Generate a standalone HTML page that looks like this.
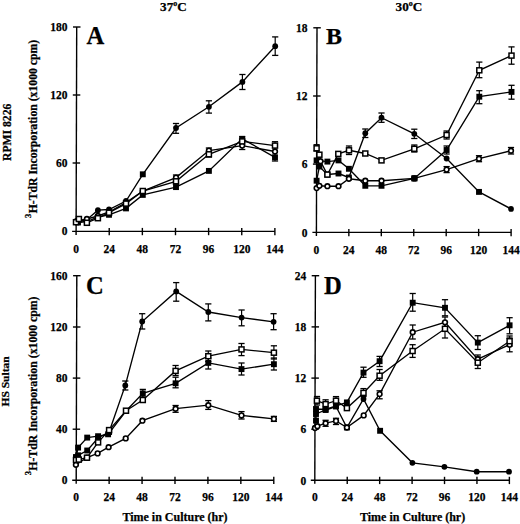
<!DOCTYPE html>
<html><head><meta charset="utf-8"><style>
html,body{margin:0;padding:0;background:#fff;}
svg{display:block;}
text{font-family:"Liberation Serif", serif;font-weight:bold;fill:#000;stroke:#000;stroke-width:0.25px;}
</style></head><body>
<svg width="520" height="524" viewBox="0 0 520 524" stroke="#000" stroke-linecap="butt">
<line x1="76.70" y1="27.00" x2="76.10" y2="234.90" stroke-width="1.4"/>
<line x1="72.10" y1="231.40" x2="274.80" y2="231.40" stroke-width="1.4"/>
<line x1="73.00" y1="27.00" x2="80.50" y2="27.00" stroke-width="1.4"/>
<line x1="72.80" y1="95.00" x2="80.30" y2="95.00" stroke-width="1.4"/>
<line x1="72.60" y1="163.00" x2="80.10" y2="163.00" stroke-width="1.4"/>
<text x="76.10" y="252.50" font-size="12.2" text-anchor="middle" textLength="5.75" lengthAdjust="spacingAndGlyphs" >0</text>
<line x1="109.23" y1="227.90" x2="109.23" y2="235.20" stroke-width="1.4"/>
<text x="109.23" y="252.50" font-size="12.2" text-anchor="middle" textLength="11.5" lengthAdjust="spacingAndGlyphs" >24</text>
<line x1="142.36" y1="227.90" x2="142.36" y2="235.20" stroke-width="1.4"/>
<text x="142.36" y="252.50" font-size="12.2" text-anchor="middle" textLength="11.5" lengthAdjust="spacingAndGlyphs" >48</text>
<line x1="175.49" y1="227.90" x2="175.49" y2="235.20" stroke-width="1.4"/>
<text x="175.49" y="252.50" font-size="12.2" text-anchor="middle" textLength="11.5" lengthAdjust="spacingAndGlyphs" >72</text>
<line x1="208.62" y1="227.90" x2="208.62" y2="235.20" stroke-width="1.4"/>
<text x="208.62" y="252.50" font-size="12.2" text-anchor="middle" textLength="11.5" lengthAdjust="spacingAndGlyphs" >96</text>
<line x1="241.75" y1="227.90" x2="241.75" y2="235.20" stroke-width="1.4"/>
<text x="241.75" y="252.50" font-size="12.2" text-anchor="middle" textLength="17.25" lengthAdjust="spacingAndGlyphs" >120</text>
<line x1="274.88" y1="227.90" x2="274.88" y2="235.20" stroke-width="1.4"/>
<text x="274.88" y="252.50" font-size="12.2" text-anchor="middle" textLength="17.25" lengthAdjust="spacingAndGlyphs" >144</text>
<text x="67.60" y="31.20" font-size="12.2" text-anchor="end" textLength="17.25" lengthAdjust="spacingAndGlyphs" >180</text>
<text x="67.60" y="99.20" font-size="12.2" text-anchor="end" textLength="17.25" lengthAdjust="spacingAndGlyphs" >120</text>
<text x="67.60" y="167.20" font-size="12.2" text-anchor="end" textLength="11.5" lengthAdjust="spacingAndGlyphs" >60</text>
<text x="67.60" y="235.20" font-size="12.2" text-anchor="end" textLength="5.75" lengthAdjust="spacingAndGlyphs" >0</text>
<line x1="317.00" y1="27.80" x2="316.40" y2="235.90" stroke-width="1.4"/>
<line x1="312.40" y1="232.40" x2="511.20" y2="232.40" stroke-width="1.4"/>
<line x1="313.30" y1="27.80" x2="320.80" y2="27.80" stroke-width="1.4"/>
<line x1="313.10" y1="96.00" x2="320.60" y2="96.00" stroke-width="1.4"/>
<line x1="312.90" y1="164.10" x2="320.40" y2="164.10" stroke-width="1.4"/>
<text x="316.40" y="254.10" font-size="12.2" text-anchor="middle" textLength="5.75" lengthAdjust="spacingAndGlyphs" >0</text>
<line x1="348.85" y1="228.90" x2="348.85" y2="236.20" stroke-width="1.4"/>
<text x="348.85" y="254.10" font-size="12.2" text-anchor="middle" textLength="11.5" lengthAdjust="spacingAndGlyphs" >24</text>
<line x1="381.30" y1="228.90" x2="381.30" y2="236.20" stroke-width="1.4"/>
<text x="381.30" y="254.10" font-size="12.2" text-anchor="middle" textLength="11.5" lengthAdjust="spacingAndGlyphs" >48</text>
<line x1="413.75" y1="228.90" x2="413.75" y2="236.20" stroke-width="1.4"/>
<text x="413.75" y="254.10" font-size="12.2" text-anchor="middle" textLength="11.5" lengthAdjust="spacingAndGlyphs" >72</text>
<line x1="446.20" y1="228.90" x2="446.20" y2="236.20" stroke-width="1.4"/>
<text x="446.20" y="254.10" font-size="12.2" text-anchor="middle" textLength="11.5" lengthAdjust="spacingAndGlyphs" >96</text>
<line x1="478.65" y1="228.90" x2="478.65" y2="236.20" stroke-width="1.4"/>
<text x="478.65" y="254.10" font-size="12.2" text-anchor="middle" textLength="17.25" lengthAdjust="spacingAndGlyphs" >120</text>
<line x1="511.10" y1="228.90" x2="511.10" y2="236.20" stroke-width="1.4"/>
<text x="511.10" y="254.10" font-size="12.2" text-anchor="middle" textLength="17.25" lengthAdjust="spacingAndGlyphs" >144</text>
<text x="307.50" y="32.00" font-size="12.2" text-anchor="end" textLength="11.5" lengthAdjust="spacingAndGlyphs" >18</text>
<text x="307.50" y="100.20" font-size="12.2" text-anchor="end" textLength="11.5" lengthAdjust="spacingAndGlyphs" >12</text>
<text x="307.50" y="168.30" font-size="12.2" text-anchor="end" textLength="5.75" lengthAdjust="spacingAndGlyphs" >6</text>
<text x="307.50" y="236.50" font-size="12.2" text-anchor="end" textLength="5.75" lengthAdjust="spacingAndGlyphs" >0</text>
<line x1="76.80" y1="275.70" x2="76.20" y2="483.80" stroke-width="1.4"/>
<line x1="72.20" y1="480.30" x2="273.80" y2="480.30" stroke-width="1.4"/>
<line x1="73.10" y1="275.70" x2="80.60" y2="275.70" stroke-width="1.4"/>
<line x1="72.95" y1="327.00" x2="80.45" y2="327.00" stroke-width="1.4"/>
<line x1="72.80" y1="378.10" x2="80.30" y2="378.10" stroke-width="1.4"/>
<line x1="72.65" y1="429.20" x2="80.15" y2="429.20" stroke-width="1.4"/>
<text x="76.20" y="501.30" font-size="12.2" text-anchor="middle" textLength="5.75" lengthAdjust="spacingAndGlyphs" >0</text>
<line x1="109.13" y1="476.80" x2="109.13" y2="484.10" stroke-width="1.4"/>
<text x="109.13" y="501.30" font-size="12.2" text-anchor="middle" textLength="11.5" lengthAdjust="spacingAndGlyphs" >24</text>
<line x1="142.06" y1="476.80" x2="142.06" y2="484.10" stroke-width="1.4"/>
<text x="142.06" y="501.30" font-size="12.2" text-anchor="middle" textLength="11.5" lengthAdjust="spacingAndGlyphs" >48</text>
<line x1="174.99" y1="476.80" x2="174.99" y2="484.10" stroke-width="1.4"/>
<text x="174.99" y="501.30" font-size="12.2" text-anchor="middle" textLength="11.5" lengthAdjust="spacingAndGlyphs" >72</text>
<line x1="207.92" y1="476.80" x2="207.92" y2="484.10" stroke-width="1.4"/>
<text x="207.92" y="501.30" font-size="12.2" text-anchor="middle" textLength="11.5" lengthAdjust="spacingAndGlyphs" >96</text>
<line x1="240.85" y1="476.80" x2="240.85" y2="484.10" stroke-width="1.4"/>
<text x="240.85" y="501.30" font-size="12.2" text-anchor="middle" textLength="17.25" lengthAdjust="spacingAndGlyphs" >120</text>
<line x1="273.78" y1="476.80" x2="273.78" y2="484.10" stroke-width="1.4"/>
<text x="273.78" y="501.30" font-size="12.2" text-anchor="middle" textLength="17.25" lengthAdjust="spacingAndGlyphs" >144</text>
<text x="67.40" y="279.90" font-size="12.2" text-anchor="end" textLength="17.25" lengthAdjust="spacingAndGlyphs" >160</text>
<text x="67.40" y="331.20" font-size="12.2" text-anchor="end" textLength="17.25" lengthAdjust="spacingAndGlyphs" >120</text>
<text x="67.40" y="382.30" font-size="12.2" text-anchor="end" textLength="11.5" lengthAdjust="spacingAndGlyphs" >80</text>
<text x="67.40" y="433.40" font-size="12.2" text-anchor="end" textLength="11.5" lengthAdjust="spacingAndGlyphs" >40</text>
<text x="67.40" y="484.40" font-size="12.2" text-anchor="end" textLength="5.75" lengthAdjust="spacingAndGlyphs" >0</text>
<line x1="315.40" y1="275.70" x2="314.80" y2="483.80" stroke-width="1.4"/>
<line x1="310.80" y1="480.30" x2="509.40" y2="480.30" stroke-width="1.4"/>
<line x1="311.70" y1="275.70" x2="319.20" y2="275.70" stroke-width="1.4"/>
<line x1="311.55" y1="326.90" x2="319.05" y2="326.90" stroke-width="1.4"/>
<line x1="311.40" y1="378.10" x2="318.90" y2="378.10" stroke-width="1.4"/>
<line x1="311.25" y1="429.20" x2="318.75" y2="429.20" stroke-width="1.4"/>
<text x="314.80" y="501.30" font-size="12.2" text-anchor="middle" textLength="5.75" lengthAdjust="spacingAndGlyphs" >0</text>
<line x1="347.23" y1="476.80" x2="347.23" y2="484.10" stroke-width="1.4"/>
<text x="347.23" y="501.30" font-size="12.2" text-anchor="middle" textLength="11.5" lengthAdjust="spacingAndGlyphs" >24</text>
<line x1="379.66" y1="476.80" x2="379.66" y2="484.10" stroke-width="1.4"/>
<text x="379.66" y="501.30" font-size="12.2" text-anchor="middle" textLength="11.5" lengthAdjust="spacingAndGlyphs" >48</text>
<line x1="412.09" y1="476.80" x2="412.09" y2="484.10" stroke-width="1.4"/>
<text x="412.09" y="501.30" font-size="12.2" text-anchor="middle" textLength="11.5" lengthAdjust="spacingAndGlyphs" >72</text>
<line x1="444.52" y1="476.80" x2="444.52" y2="484.10" stroke-width="1.4"/>
<text x="444.52" y="501.30" font-size="12.2" text-anchor="middle" textLength="11.5" lengthAdjust="spacingAndGlyphs" >96</text>
<line x1="476.95" y1="476.80" x2="476.95" y2="484.10" stroke-width="1.4"/>
<text x="476.95" y="501.30" font-size="12.2" text-anchor="middle" textLength="17.25" lengthAdjust="spacingAndGlyphs" >120</text>
<line x1="509.38" y1="476.80" x2="509.38" y2="484.10" stroke-width="1.4"/>
<text x="509.38" y="501.30" font-size="12.2" text-anchor="middle" textLength="17.25" lengthAdjust="spacingAndGlyphs" >144</text>
<text x="306.30" y="279.90" font-size="12.2" text-anchor="end" textLength="11.5" lengthAdjust="spacingAndGlyphs" >24</text>
<text x="306.30" y="331.10" font-size="12.2" text-anchor="end" textLength="11.5" lengthAdjust="spacingAndGlyphs" >18</text>
<text x="306.30" y="382.30" font-size="12.2" text-anchor="end" textLength="11.5" lengthAdjust="spacingAndGlyphs" >12</text>
<text x="306.30" y="433.40" font-size="12.2" text-anchor="end" textLength="5.75" lengthAdjust="spacingAndGlyphs" >6</text>
<text x="306.30" y="484.50" font-size="12.2" text-anchor="end" textLength="5.75" lengthAdjust="spacingAndGlyphs" >0</text>
<polyline points="78.00,222.50 86.90,221.50 97.90,217.00 109.00,214.80 126.00,208.40 142.80,194.90 176.00,187.10 208.90,170.90 242.20,138.80 275.00,157.30" fill="none" stroke-width="1.35"/>
<polyline points="77.00,222.00 87.00,219.50 97.90,210.20 109.00,209.50 126.00,201.00 142.80,174.30 176.00,128.00 208.90,106.80 242.40,81.90 275.20,46.20" fill="none" stroke-width="1.35"/>
<polyline points="77.00,221.00 86.90,219.00 97.90,216.00 109.00,212.00 126.00,202.50 142.80,191.20 176.00,177.60 208.90,150.60 242.20,145.60 275.00,151.50" fill="none" stroke-width="1.35"/>
<polyline points="76.00,222.20 78.90,219.00 86.90,222.80 97.90,218.20 109.00,212.70 126.00,203.60 142.80,191.00 176.00,181.30 208.90,154.30 242.20,141.40 275.00,145.60" fill="none" stroke-width="1.35"/>
<polyline points="316.60,160.40 327.40,161.60 338.50,160.40 348.90,168.80 365.30,185.80 381.50,185.80 414.30,178.40 446.60,150.00 479.30,96.70 511.50,91.90" fill="none" stroke-width="1.35"/>
<polyline points="316.60,180.70 319.40,166.50 327.40,174.50 338.50,173.50 348.90,177.50 365.30,133.20 381.50,117.70 414.30,133.80 446.60,158.50 479.00,191.90 511.00,208.90" fill="none" stroke-width="1.35"/>
<polyline points="316.60,188.10 319.40,185.80 327.40,186.20 338.50,186.20 348.90,178.80 365.30,180.70 381.50,180.70 414.30,178.40 446.60,169.60 479.00,158.70 511.00,150.70" fill="none" stroke-width="1.35"/>
<polyline points="316.60,148.30 319.40,154.70 320.50,161.20 327.40,174.60 338.30,153.90 349.00,150.30 365.30,153.50 381.50,160.40 414.30,148.80 446.60,135.00 479.30,70.30 511.50,55.60" fill="none" stroke-width="1.35"/>
<polyline points="76.00,457.00 78.10,447.60 87.20,437.60 98.10,436.20 108.10,434.30 126.00,411.00 142.80,393.40 175.60,383.30 208.30,362.90 241.50,369.10 273.90,364.20" fill="none" stroke-width="1.35"/>
<polyline points="76.00,458.00 78.10,455.30 87.20,450.50 98.10,438.00 109.10,432.00 125.30,385.40 142.20,321.50 176.20,291.40 208.30,312.00 241.60,317.60 273.60,321.80" fill="none" stroke-width="1.35"/>
<polyline points="75.90,464.80 87.00,457.70 97.60,453.40 108.60,447.20 125.70,438.40 142.40,420.70 175.60,408.70 208.30,405.20 241.50,415.40 273.90,418.90" fill="none" stroke-width="1.35"/>
<polyline points="76.00,460.00 78.80,459.60 87.00,457.70 98.10,442.40 109.10,430.10 126.00,410.70 142.80,400.00 175.60,370.90 208.30,356.20 241.50,349.40 273.90,352.70" fill="none" stroke-width="1.35"/>
<polyline points="316.00,420.60 316.00,409.00 325.60,409.30 336.00,405.90 346.90,402.40 363.50,372.60 379.60,361.20 412.70,302.70 445.00,307.80 477.80,342.60 509.60,325.30" fill="none" stroke-width="1.35"/>
<polyline points="316.00,414.00 325.60,410.00 336.00,406.50 346.90,427.50 363.50,399.00 380.10,430.80 412.40,462.80 444.40,466.80 476.70,471.70 509.00,471.70" fill="none" stroke-width="1.35"/>
<polyline points="315.00,428.00 317.40,426.20 325.60,423.20 336.00,420.90 346.90,427.50 363.70,415.40 379.60,394.10 412.70,332.20 445.00,322.30 477.80,359.20 509.60,344.70" fill="none" stroke-width="1.35"/>
<polyline points="316.90,400.70 325.60,404.10 336.00,400.70 346.90,408.10 363.50,392.90 379.60,375.70 412.60,351.00 445.00,328.80 477.80,362.70 509.60,341.20" fill="none" stroke-width="1.35"/>
<line x1="176.00" y1="123.50" x2="176.00" y2="133.30" stroke-width="1.2"/>
<line x1="172.90" y1="123.50" x2="179.10" y2="123.50" stroke-width="1.3"/>
<line x1="172.90" y1="133.30" x2="179.10" y2="133.30" stroke-width="1.3"/>
<line x1="208.90" y1="100.80" x2="208.90" y2="113.10" stroke-width="1.2"/>
<line x1="205.80" y1="100.80" x2="212.00" y2="100.80" stroke-width="1.3"/>
<line x1="205.80" y1="113.10" x2="212.00" y2="113.10" stroke-width="1.3"/>
<line x1="242.40" y1="74.50" x2="242.40" y2="89.50" stroke-width="1.2"/>
<line x1="239.30" y1="74.50" x2="245.50" y2="74.50" stroke-width="1.3"/>
<line x1="239.30" y1="89.50" x2="245.50" y2="89.50" stroke-width="1.3"/>
<line x1="275.20" y1="36.90" x2="275.20" y2="55.40" stroke-width="1.2"/>
<line x1="272.10" y1="36.90" x2="278.30" y2="36.90" stroke-width="1.3"/>
<line x1="272.10" y1="55.40" x2="278.30" y2="55.40" stroke-width="1.3"/>
<line x1="208.90" y1="148.00" x2="208.90" y2="157.00" stroke-width="1.2"/>
<line x1="205.80" y1="148.00" x2="212.00" y2="148.00" stroke-width="1.3"/>
<line x1="205.80" y1="157.00" x2="212.00" y2="157.00" stroke-width="1.3"/>
<line x1="242.20" y1="136.80" x2="242.20" y2="149.50" stroke-width="1.2"/>
<line x1="239.10" y1="136.80" x2="245.30" y2="136.80" stroke-width="1.3"/>
<line x1="239.10" y1="149.50" x2="245.30" y2="149.50" stroke-width="1.3"/>
<line x1="275.00" y1="141.70" x2="275.00" y2="161.00" stroke-width="1.2"/>
<line x1="271.90" y1="141.70" x2="278.10" y2="141.70" stroke-width="1.3"/>
<line x1="271.90" y1="161.00" x2="278.10" y2="161.00" stroke-width="1.3"/>
<line x1="176.00" y1="175.00" x2="176.00" y2="184.00" stroke-width="1.2"/>
<line x1="172.90" y1="175.00" x2="179.10" y2="175.00" stroke-width="1.3"/>
<line x1="172.90" y1="184.00" x2="179.10" y2="184.00" stroke-width="1.3"/>
<line x1="365.30" y1="129.00" x2="365.30" y2="137.50" stroke-width="1.2"/>
<line x1="362.20" y1="129.00" x2="368.40" y2="129.00" stroke-width="1.3"/>
<line x1="362.20" y1="137.50" x2="368.40" y2="137.50" stroke-width="1.3"/>
<line x1="381.50" y1="113.00" x2="381.50" y2="122.30" stroke-width="1.2"/>
<line x1="378.40" y1="113.00" x2="384.60" y2="113.00" stroke-width="1.3"/>
<line x1="378.40" y1="122.30" x2="384.60" y2="122.30" stroke-width="1.3"/>
<line x1="414.30" y1="129.20" x2="414.30" y2="138.50" stroke-width="1.2"/>
<line x1="411.20" y1="129.20" x2="417.40" y2="129.20" stroke-width="1.3"/>
<line x1="411.20" y1="138.50" x2="417.40" y2="138.50" stroke-width="1.3"/>
<line x1="316.60" y1="144.70" x2="316.60" y2="151.00" stroke-width="1.2"/>
<line x1="313.50" y1="144.70" x2="319.70" y2="144.70" stroke-width="1.3"/>
<line x1="313.50" y1="151.00" x2="319.70" y2="151.00" stroke-width="1.3"/>
<line x1="349.00" y1="146.00" x2="349.00" y2="154.50" stroke-width="1.2"/>
<line x1="345.90" y1="146.00" x2="352.10" y2="146.00" stroke-width="1.3"/>
<line x1="345.90" y1="154.50" x2="352.10" y2="154.50" stroke-width="1.3"/>
<line x1="414.30" y1="145.00" x2="414.30" y2="152.00" stroke-width="1.2"/>
<line x1="411.20" y1="145.00" x2="417.40" y2="145.00" stroke-width="1.3"/>
<line x1="411.20" y1="152.00" x2="417.40" y2="152.00" stroke-width="1.3"/>
<line x1="446.60" y1="131.00" x2="446.60" y2="139.00" stroke-width="1.2"/>
<line x1="443.50" y1="131.00" x2="449.70" y2="131.00" stroke-width="1.3"/>
<line x1="443.50" y1="139.00" x2="449.70" y2="139.00" stroke-width="1.3"/>
<line x1="479.30" y1="62.10" x2="479.30" y2="77.70" stroke-width="1.2"/>
<line x1="476.20" y1="62.10" x2="482.40" y2="62.10" stroke-width="1.3"/>
<line x1="476.20" y1="77.70" x2="482.40" y2="77.70" stroke-width="1.3"/>
<line x1="511.50" y1="46.90" x2="511.50" y2="64.20" stroke-width="1.2"/>
<line x1="508.40" y1="46.90" x2="514.60" y2="46.90" stroke-width="1.3"/>
<line x1="508.40" y1="64.20" x2="514.60" y2="64.20" stroke-width="1.3"/>
<line x1="446.60" y1="146.00" x2="446.60" y2="154.00" stroke-width="1.2"/>
<line x1="443.50" y1="146.00" x2="449.70" y2="146.00" stroke-width="1.3"/>
<line x1="443.50" y1="154.00" x2="449.70" y2="154.00" stroke-width="1.3"/>
<line x1="479.30" y1="90.70" x2="479.30" y2="103.70" stroke-width="1.2"/>
<line x1="476.20" y1="90.70" x2="482.40" y2="90.70" stroke-width="1.3"/>
<line x1="476.20" y1="103.70" x2="482.40" y2="103.70" stroke-width="1.3"/>
<line x1="511.50" y1="85.30" x2="511.50" y2="99.20" stroke-width="1.2"/>
<line x1="508.40" y1="85.30" x2="514.60" y2="85.30" stroke-width="1.3"/>
<line x1="508.40" y1="99.20" x2="514.60" y2="99.20" stroke-width="1.3"/>
<line x1="446.60" y1="166.60" x2="446.60" y2="172.60" stroke-width="1.2"/>
<line x1="443.50" y1="166.60" x2="449.70" y2="166.60" stroke-width="1.3"/>
<line x1="443.50" y1="172.60" x2="449.70" y2="172.60" stroke-width="1.3"/>
<line x1="479.00" y1="155.70" x2="479.00" y2="161.70" stroke-width="1.2"/>
<line x1="475.90" y1="155.70" x2="482.10" y2="155.70" stroke-width="1.3"/>
<line x1="475.90" y1="161.70" x2="482.10" y2="161.70" stroke-width="1.3"/>
<line x1="511.00" y1="147.50" x2="511.00" y2="154.00" stroke-width="1.2"/>
<line x1="507.90" y1="147.50" x2="514.10" y2="147.50" stroke-width="1.3"/>
<line x1="507.90" y1="154.00" x2="514.10" y2="154.00" stroke-width="1.3"/>
<line x1="125.30" y1="381.00" x2="125.30" y2="390.00" stroke-width="1.2"/>
<line x1="122.20" y1="381.00" x2="128.40" y2="381.00" stroke-width="1.3"/>
<line x1="122.20" y1="390.00" x2="128.40" y2="390.00" stroke-width="1.3"/>
<line x1="142.20" y1="313.70" x2="142.20" y2="329.00" stroke-width="1.2"/>
<line x1="139.10" y1="313.70" x2="145.30" y2="313.70" stroke-width="1.3"/>
<line x1="139.10" y1="329.00" x2="145.30" y2="329.00" stroke-width="1.3"/>
<line x1="176.20" y1="282.60" x2="176.20" y2="301.20" stroke-width="1.2"/>
<line x1="173.10" y1="282.60" x2="179.30" y2="282.60" stroke-width="1.3"/>
<line x1="173.10" y1="301.20" x2="179.30" y2="301.20" stroke-width="1.3"/>
<line x1="208.30" y1="303.90" x2="208.30" y2="320.90" stroke-width="1.2"/>
<line x1="205.20" y1="303.90" x2="211.40" y2="303.90" stroke-width="1.3"/>
<line x1="205.20" y1="320.90" x2="211.40" y2="320.90" stroke-width="1.3"/>
<line x1="241.60" y1="310.00" x2="241.60" y2="325.80" stroke-width="1.2"/>
<line x1="238.50" y1="310.00" x2="244.70" y2="310.00" stroke-width="1.3"/>
<line x1="238.50" y1="325.80" x2="244.70" y2="325.80" stroke-width="1.3"/>
<line x1="273.60" y1="313.70" x2="273.60" y2="329.70" stroke-width="1.2"/>
<line x1="270.50" y1="313.70" x2="276.70" y2="313.70" stroke-width="1.3"/>
<line x1="270.50" y1="329.70" x2="276.70" y2="329.70" stroke-width="1.3"/>
<line x1="142.80" y1="389.40" x2="142.80" y2="397.00" stroke-width="1.2"/>
<line x1="139.70" y1="389.40" x2="145.90" y2="389.40" stroke-width="1.3"/>
<line x1="139.70" y1="397.00" x2="145.90" y2="397.00" stroke-width="1.3"/>
<line x1="175.60" y1="377.20" x2="175.60" y2="387.80" stroke-width="1.2"/>
<line x1="172.50" y1="377.20" x2="178.70" y2="377.20" stroke-width="1.3"/>
<line x1="172.50" y1="387.80" x2="178.70" y2="387.80" stroke-width="1.3"/>
<line x1="208.30" y1="358.00" x2="208.30" y2="369.00" stroke-width="1.2"/>
<line x1="205.20" y1="358.00" x2="211.40" y2="358.00" stroke-width="1.3"/>
<line x1="205.20" y1="369.00" x2="211.40" y2="369.00" stroke-width="1.3"/>
<line x1="241.50" y1="363.00" x2="241.50" y2="375.00" stroke-width="1.2"/>
<line x1="238.40" y1="363.00" x2="244.60" y2="363.00" stroke-width="1.3"/>
<line x1="238.40" y1="375.00" x2="244.60" y2="375.00" stroke-width="1.3"/>
<line x1="273.90" y1="358.00" x2="273.90" y2="370.00" stroke-width="1.2"/>
<line x1="270.80" y1="358.00" x2="277.00" y2="358.00" stroke-width="1.3"/>
<line x1="270.80" y1="370.00" x2="277.00" y2="370.00" stroke-width="1.3"/>
<line x1="175.60" y1="365.50" x2="175.60" y2="375.50" stroke-width="1.2"/>
<line x1="172.50" y1="365.50" x2="178.70" y2="365.50" stroke-width="1.3"/>
<line x1="172.50" y1="375.50" x2="178.70" y2="375.50" stroke-width="1.3"/>
<line x1="208.30" y1="351.00" x2="208.30" y2="361.50" stroke-width="1.2"/>
<line x1="205.20" y1="351.00" x2="211.40" y2="351.00" stroke-width="1.3"/>
<line x1="205.20" y1="361.50" x2="211.40" y2="361.50" stroke-width="1.3"/>
<line x1="241.50" y1="343.50" x2="241.50" y2="355.60" stroke-width="1.2"/>
<line x1="238.40" y1="343.50" x2="244.60" y2="343.50" stroke-width="1.3"/>
<line x1="238.40" y1="355.60" x2="244.60" y2="355.60" stroke-width="1.3"/>
<line x1="273.90" y1="345.80" x2="273.90" y2="359.00" stroke-width="1.2"/>
<line x1="270.80" y1="345.80" x2="277.00" y2="345.80" stroke-width="1.3"/>
<line x1="270.80" y1="359.00" x2="277.00" y2="359.00" stroke-width="1.3"/>
<line x1="175.60" y1="405.50" x2="175.60" y2="412.30" stroke-width="1.2"/>
<line x1="172.50" y1="405.50" x2="178.70" y2="405.50" stroke-width="1.3"/>
<line x1="172.50" y1="412.30" x2="178.70" y2="412.30" stroke-width="1.3"/>
<line x1="208.30" y1="400.60" x2="208.30" y2="409.40" stroke-width="1.2"/>
<line x1="205.20" y1="400.60" x2="211.40" y2="400.60" stroke-width="1.3"/>
<line x1="205.20" y1="409.40" x2="211.40" y2="409.40" stroke-width="1.3"/>
<line x1="241.50" y1="411.60" x2="241.50" y2="419.00" stroke-width="1.2"/>
<line x1="238.40" y1="411.60" x2="244.60" y2="411.60" stroke-width="1.3"/>
<line x1="238.40" y1="419.00" x2="244.60" y2="419.00" stroke-width="1.3"/>
<line x1="273.90" y1="416.40" x2="273.90" y2="421.40" stroke-width="1.2"/>
<line x1="270.80" y1="416.40" x2="277.00" y2="416.40" stroke-width="1.3"/>
<line x1="270.80" y1="421.40" x2="277.00" y2="421.40" stroke-width="1.3"/>
<line x1="363.50" y1="367.20" x2="363.50" y2="377.30" stroke-width="1.2"/>
<line x1="360.40" y1="367.20" x2="366.60" y2="367.20" stroke-width="1.3"/>
<line x1="360.40" y1="377.30" x2="366.60" y2="377.30" stroke-width="1.3"/>
<line x1="379.60" y1="356.40" x2="379.60" y2="366.50" stroke-width="1.2"/>
<line x1="376.50" y1="356.40" x2="382.70" y2="356.40" stroke-width="1.3"/>
<line x1="376.50" y1="366.50" x2="382.70" y2="366.50" stroke-width="1.3"/>
<line x1="412.70" y1="293.50" x2="412.70" y2="311.20" stroke-width="1.2"/>
<line x1="409.60" y1="293.50" x2="415.80" y2="293.50" stroke-width="1.3"/>
<line x1="409.60" y1="311.20" x2="415.80" y2="311.20" stroke-width="1.3"/>
<line x1="445.00" y1="299.70" x2="445.00" y2="315.80" stroke-width="1.2"/>
<line x1="441.90" y1="299.70" x2="448.10" y2="299.70" stroke-width="1.3"/>
<line x1="441.90" y1="315.80" x2="448.10" y2="315.80" stroke-width="1.3"/>
<line x1="477.80" y1="335.70" x2="477.80" y2="349.50" stroke-width="1.2"/>
<line x1="474.70" y1="335.70" x2="480.90" y2="335.70" stroke-width="1.3"/>
<line x1="474.70" y1="349.50" x2="480.90" y2="349.50" stroke-width="1.3"/>
<line x1="509.60" y1="317.70" x2="509.60" y2="333.80" stroke-width="1.2"/>
<line x1="506.50" y1="317.70" x2="512.70" y2="317.70" stroke-width="1.3"/>
<line x1="506.50" y1="333.80" x2="512.70" y2="333.80" stroke-width="1.3"/>
<line x1="363.50" y1="388.60" x2="363.50" y2="396.50" stroke-width="1.2"/>
<line x1="360.40" y1="388.60" x2="366.60" y2="388.60" stroke-width="1.3"/>
<line x1="360.40" y1="396.50" x2="366.60" y2="396.50" stroke-width="1.3"/>
<line x1="379.60" y1="369.50" x2="379.60" y2="380.30" stroke-width="1.2"/>
<line x1="376.50" y1="369.50" x2="382.70" y2="369.50" stroke-width="1.3"/>
<line x1="376.50" y1="380.30" x2="382.70" y2="380.30" stroke-width="1.3"/>
<line x1="412.60" y1="344.70" x2="412.60" y2="357.40" stroke-width="1.2"/>
<line x1="409.50" y1="344.70" x2="415.70" y2="344.70" stroke-width="1.3"/>
<line x1="409.50" y1="357.40" x2="415.70" y2="357.40" stroke-width="1.3"/>
<line x1="445.00" y1="322.00" x2="445.00" y2="338.00" stroke-width="1.2"/>
<line x1="441.90" y1="322.00" x2="448.10" y2="322.00" stroke-width="1.3"/>
<line x1="441.90" y1="338.00" x2="448.10" y2="338.00" stroke-width="1.3"/>
<line x1="477.80" y1="357.00" x2="477.80" y2="368.50" stroke-width="1.2"/>
<line x1="474.70" y1="357.00" x2="480.90" y2="357.00" stroke-width="1.3"/>
<line x1="474.70" y1="368.50" x2="480.90" y2="368.50" stroke-width="1.3"/>
<line x1="509.60" y1="336.00" x2="509.60" y2="346.00" stroke-width="1.2"/>
<line x1="506.50" y1="336.00" x2="512.70" y2="336.00" stroke-width="1.3"/>
<line x1="506.50" y1="346.00" x2="512.70" y2="346.00" stroke-width="1.3"/>
<line x1="379.60" y1="390.80" x2="379.60" y2="398.80" stroke-width="1.2"/>
<line x1="376.50" y1="390.80" x2="382.70" y2="390.80" stroke-width="1.3"/>
<line x1="376.50" y1="398.80" x2="382.70" y2="398.80" stroke-width="1.3"/>
<line x1="325.60" y1="399.80" x2="325.60" y2="409.00" stroke-width="1.2"/>
<line x1="322.50" y1="399.80" x2="328.70" y2="399.80" stroke-width="1.3"/>
<line x1="322.50" y1="409.00" x2="328.70" y2="409.00" stroke-width="1.3"/>
<line x1="336.00" y1="396.60" x2="336.00" y2="404.80" stroke-width="1.2"/>
<line x1="332.90" y1="396.60" x2="339.10" y2="396.60" stroke-width="1.3"/>
<line x1="332.90" y1="404.80" x2="339.10" y2="404.80" stroke-width="1.3"/>
<line x1="317.00" y1="396.50" x2="317.00" y2="405.00" stroke-width="1.2"/>
<line x1="313.90" y1="396.50" x2="320.10" y2="396.50" stroke-width="1.3"/>
<line x1="313.90" y1="405.00" x2="320.10" y2="405.00" stroke-width="1.3"/>
<line x1="336.00" y1="418.30" x2="336.00" y2="424.50" stroke-width="1.2"/>
<line x1="332.90" y1="418.30" x2="339.10" y2="418.30" stroke-width="1.3"/>
<line x1="332.90" y1="424.50" x2="339.10" y2="424.50" stroke-width="1.3"/>
<line x1="325.60" y1="420.30" x2="325.60" y2="426.30" stroke-width="1.2"/>
<line x1="322.50" y1="420.30" x2="328.70" y2="420.30" stroke-width="1.3"/>
<line x1="322.50" y1="426.30" x2="328.70" y2="426.30" stroke-width="1.3"/>
<line x1="412.70" y1="325.00" x2="412.70" y2="339.00" stroke-width="1.2"/>
<line x1="409.60" y1="325.00" x2="415.80" y2="325.00" stroke-width="1.3"/>
<line x1="409.60" y1="339.00" x2="415.80" y2="339.00" stroke-width="1.3"/>
<line x1="445.00" y1="317.00" x2="445.00" y2="327.00" stroke-width="1.2"/>
<line x1="441.90" y1="317.00" x2="448.10" y2="317.00" stroke-width="1.3"/>
<line x1="441.90" y1="327.00" x2="448.10" y2="327.00" stroke-width="1.3"/>
<line x1="477.80" y1="355.00" x2="477.80" y2="363.00" stroke-width="1.2"/>
<line x1="474.70" y1="355.00" x2="480.90" y2="355.00" stroke-width="1.3"/>
<line x1="474.70" y1="363.00" x2="480.90" y2="363.00" stroke-width="1.3"/>
<line x1="509.60" y1="338.00" x2="509.60" y2="351.80" stroke-width="1.2"/>
<line x1="506.50" y1="338.00" x2="512.70" y2="338.00" stroke-width="1.3"/>
<line x1="506.50" y1="351.80" x2="512.70" y2="351.80" stroke-width="1.3"/>
<rect x="75.05" y="219.55" width="5.9" height="5.9" fill="#000" stroke="none"/>
<rect x="83.95" y="218.55" width="5.9" height="5.9" fill="#000" stroke="none"/>
<rect x="94.95" y="214.05" width="5.9" height="5.9" fill="#000" stroke="none"/>
<rect x="106.05" y="211.85" width="5.9" height="5.9" fill="#000" stroke="none"/>
<rect x="123.05" y="205.45" width="5.9" height="5.9" fill="#000" stroke="none"/>
<rect x="139.85" y="191.95" width="5.9" height="5.9" fill="#000" stroke="none"/>
<rect x="173.05" y="184.15" width="5.9" height="5.9" fill="#000" stroke="none"/>
<rect x="205.95" y="167.95" width="5.9" height="5.9" fill="#000" stroke="none"/>
<rect x="239.25" y="135.85" width="5.9" height="5.9" fill="#000" stroke="none"/>
<rect x="272.05" y="154.35" width="5.9" height="5.9" fill="#000" stroke="none"/>
<circle cx="77.00" cy="222.00" r="2.9" fill="#000" stroke="none"/>
<circle cx="87.00" cy="219.50" r="2.9" fill="#000" stroke="none"/>
<circle cx="97.90" cy="210.20" r="2.9" fill="#000" stroke="none"/>
<circle cx="109.00" cy="209.50" r="2.9" fill="#000" stroke="none"/>
<circle cx="126.00" cy="201.00" r="2.9" fill="#000" stroke="none"/>
<rect x="139.85" y="171.35" width="5.9" height="5.9" fill="#000" stroke="none"/>
<circle cx="176.00" cy="128.00" r="2.9" fill="#000" stroke="none"/>
<circle cx="208.90" cy="106.80" r="2.9" fill="#000" stroke="none"/>
<circle cx="242.40" cy="81.90" r="2.9" fill="#000" stroke="none"/>
<circle cx="275.20" cy="46.20" r="2.9" fill="#000" stroke="none"/>
<circle cx="77.00" cy="221.00" r="2.35" fill="#fff" stroke-width="1.6"/>
<circle cx="86.90" cy="219.00" r="2.35" fill="#fff" stroke-width="1.6"/>
<circle cx="97.90" cy="216.00" r="2.35" fill="#fff" stroke-width="1.6"/>
<circle cx="109.00" cy="212.00" r="2.35" fill="#fff" stroke-width="1.6"/>
<circle cx="126.00" cy="202.50" r="2.35" fill="#fff" stroke-width="1.6"/>
<circle cx="142.80" cy="191.20" r="2.35" fill="#fff" stroke-width="1.6"/>
<circle cx="176.00" cy="177.60" r="2.35" fill="#fff" stroke-width="1.6"/>
<circle cx="208.90" cy="150.60" r="2.35" fill="#fff" stroke-width="1.6"/>
<circle cx="242.20" cy="145.60" r="2.35" fill="#fff" stroke-width="1.6"/>
<circle cx="275.00" cy="151.50" r="2.35" fill="#fff" stroke-width="1.6"/>
<rect x="73.50" y="219.70" width="5" height="5" fill="#fff" stroke-width="1.5"/>
<rect x="76.40" y="216.50" width="5" height="5" fill="#fff" stroke-width="1.5"/>
<rect x="84.40" y="220.30" width="5" height="5" fill="#fff" stroke-width="1.5"/>
<rect x="95.40" y="215.70" width="5" height="5" fill="#fff" stroke-width="1.5"/>
<rect x="106.50" y="210.20" width="5" height="5" fill="#fff" stroke-width="1.5"/>
<rect x="123.50" y="201.10" width="5" height="5" fill="#fff" stroke-width="1.5"/>
<rect x="140.30" y="188.50" width="5" height="5" fill="#fff" stroke-width="1.5"/>
<rect x="173.50" y="178.80" width="5" height="5" fill="#fff" stroke-width="1.5"/>
<rect x="206.40" y="151.80" width="5" height="5" fill="#fff" stroke-width="1.5"/>
<rect x="239.70" y="138.90" width="5" height="5" fill="#fff" stroke-width="1.5"/>
<rect x="272.50" y="143.10" width="5" height="5" fill="#fff" stroke-width="1.5"/>
<rect x="313.65" y="157.45" width="5.9" height="5.9" fill="#000" stroke="none"/>
<rect x="324.45" y="158.65" width="5.9" height="5.9" fill="#000" stroke="none"/>
<rect x="335.55" y="157.45" width="5.9" height="5.9" fill="#000" stroke="none"/>
<rect x="345.95" y="165.85" width="5.9" height="5.9" fill="#000" stroke="none"/>
<rect x="362.35" y="182.85" width="5.9" height="5.9" fill="#000" stroke="none"/>
<rect x="378.55" y="182.85" width="5.9" height="5.9" fill="#000" stroke="none"/>
<rect x="411.35" y="175.45" width="5.9" height="5.9" fill="#000" stroke="none"/>
<rect x="443.65" y="147.05" width="5.9" height="5.9" fill="#000" stroke="none"/>
<rect x="476.35" y="93.75" width="5.9" height="5.9" fill="#000" stroke="none"/>
<rect x="508.55" y="88.95" width="5.9" height="5.9" fill="#000" stroke="none"/>
<rect x="313.65" y="177.75" width="5.9" height="5.9" fill="#000" stroke="none"/>
<rect x="316.45" y="163.55" width="5.9" height="5.9" fill="#000" stroke="none"/>
<rect x="324.45" y="171.55" width="5.9" height="5.9" fill="#000" stroke="none"/>
<rect x="335.55" y="170.55" width="5.9" height="5.9" fill="#000" stroke="none"/>
<rect x="345.95" y="174.55" width="5.9" height="5.9" fill="#000" stroke="none"/>
<circle cx="365.30" cy="133.20" r="2.9" fill="#000" stroke="none"/>
<circle cx="381.50" cy="117.70" r="2.9" fill="#000" stroke="none"/>
<circle cx="414.30" cy="133.80" r="2.9" fill="#000" stroke="none"/>
<circle cx="446.60" cy="158.50" r="2.9" fill="#000" stroke="none"/>
<rect x="476.05" y="188.95" width="5.9" height="5.9" fill="#000" stroke="none"/>
<circle cx="511.00" cy="208.90" r="2.9" fill="#000" stroke="none"/>
<circle cx="316.60" cy="188.10" r="2.35" fill="#fff" stroke-width="1.6"/>
<circle cx="319.40" cy="185.80" r="2.35" fill="#fff" stroke-width="1.6"/>
<circle cx="327.40" cy="186.20" r="2.35" fill="#fff" stroke-width="1.6"/>
<circle cx="338.50" cy="186.20" r="2.35" fill="#fff" stroke-width="1.6"/>
<circle cx="348.90" cy="178.80" r="2.35" fill="#fff" stroke-width="1.6"/>
<circle cx="365.30" cy="180.70" r="2.35" fill="#fff" stroke-width="1.6"/>
<circle cx="381.50" cy="180.70" r="2.35" fill="#fff" stroke-width="1.6"/>
<circle cx="414.30" cy="178.40" r="2.35" fill="#fff" stroke-width="1.6"/>
<circle cx="446.60" cy="169.60" r="2.35" fill="#fff" stroke-width="1.6"/>
<circle cx="479.00" cy="158.70" r="2.35" fill="#fff" stroke-width="1.6"/>
<circle cx="511.00" cy="150.70" r="2.35" fill="#fff" stroke-width="1.6"/>
<rect x="314.10" y="145.80" width="5" height="5" fill="#fff" stroke-width="1.5"/>
<rect x="316.90" y="152.20" width="5" height="5" fill="#fff" stroke-width="1.5"/>
<circle cx="320.50" cy="161.20" r="2.35" fill="#fff" stroke-width="1.6"/>
<rect x="324.90" y="172.10" width="5" height="5" fill="#fff" stroke-width="1.5"/>
<rect x="335.80" y="151.40" width="5" height="5" fill="#fff" stroke-width="1.5"/>
<rect x="346.50" y="147.80" width="5" height="5" fill="#fff" stroke-width="1.5"/>
<rect x="362.80" y="151.00" width="5" height="5" fill="#fff" stroke-width="1.5"/>
<rect x="379.00" y="157.90" width="5" height="5" fill="#fff" stroke-width="1.5"/>
<rect x="411.80" y="146.30" width="5" height="5" fill="#fff" stroke-width="1.5"/>
<rect x="444.10" y="132.50" width="5" height="5" fill="#fff" stroke-width="1.5"/>
<rect x="476.80" y="67.80" width="5" height="5" fill="#fff" stroke-width="1.5"/>
<rect x="509.00" y="53.10" width="5" height="5" fill="#fff" stroke-width="1.5"/>
<rect x="411.55" y="175.35" width="5.9" height="5.9" fill="#000" stroke="none"/>
<rect x="73.05" y="454.05" width="5.9" height="5.9" fill="#000" stroke="none"/>
<rect x="75.15" y="444.65" width="5.9" height="5.9" fill="#000" stroke="none"/>
<rect x="84.25" y="434.65" width="5.9" height="5.9" fill="#000" stroke="none"/>
<rect x="95.15" y="433.25" width="5.9" height="5.9" fill="#000" stroke="none"/>
<rect x="105.15" y="431.35" width="5.9" height="5.9" fill="#000" stroke="none"/>
<rect x="123.05" y="408.05" width="5.9" height="5.9" fill="#000" stroke="none"/>
<rect x="139.85" y="390.45" width="5.9" height="5.9" fill="#000" stroke="none"/>
<rect x="172.65" y="380.35" width="5.9" height="5.9" fill="#000" stroke="none"/>
<rect x="205.35" y="359.95" width="5.9" height="5.9" fill="#000" stroke="none"/>
<rect x="238.55" y="366.15" width="5.9" height="5.9" fill="#000" stroke="none"/>
<rect x="270.95" y="361.25" width="5.9" height="5.9" fill="#000" stroke="none"/>
<rect x="73.05" y="455.05" width="5.9" height="5.9" fill="#000" stroke="none"/>
<rect x="75.15" y="452.35" width="5.9" height="5.9" fill="#000" stroke="none"/>
<rect x="84.25" y="447.55" width="5.9" height="5.9" fill="#000" stroke="none"/>
<rect x="95.15" y="435.05" width="5.9" height="5.9" fill="#000" stroke="none"/>
<rect x="106.15" y="429.05" width="5.9" height="5.9" fill="#000" stroke="none"/>
<circle cx="125.30" cy="385.40" r="2.9" fill="#000" stroke="none"/>
<circle cx="142.20" cy="321.50" r="2.9" fill="#000" stroke="none"/>
<circle cx="176.20" cy="291.40" r="2.9" fill="#000" stroke="none"/>
<circle cx="208.30" cy="312.00" r="2.9" fill="#000" stroke="none"/>
<circle cx="241.60" cy="317.60" r="2.9" fill="#000" stroke="none"/>
<circle cx="273.60" cy="321.80" r="2.9" fill="#000" stroke="none"/>
<circle cx="75.90" cy="464.80" r="2.35" fill="#fff" stroke-width="1.6"/>
<circle cx="87.00" cy="457.70" r="2.35" fill="#fff" stroke-width="1.6"/>
<circle cx="97.60" cy="453.40" r="2.35" fill="#fff" stroke-width="1.6"/>
<circle cx="108.60" cy="447.20" r="2.35" fill="#fff" stroke-width="1.6"/>
<circle cx="125.70" cy="438.40" r="2.35" fill="#fff" stroke-width="1.6"/>
<circle cx="142.40" cy="420.70" r="2.35" fill="#fff" stroke-width="1.6"/>
<circle cx="175.60" cy="408.70" r="2.35" fill="#fff" stroke-width="1.6"/>
<circle cx="208.30" cy="405.20" r="2.35" fill="#fff" stroke-width="1.6"/>
<circle cx="241.50" cy="415.40" r="2.35" fill="#fff" stroke-width="1.6"/>
<circle cx="273.90" cy="418.90" r="2.35" fill="#fff" stroke-width="1.6"/>
<rect x="73.50" y="457.50" width="5" height="5" fill="#fff" stroke-width="1.5"/>
<rect x="76.30" y="457.10" width="5" height="5" fill="#fff" stroke-width="1.5"/>
<rect x="84.50" y="455.20" width="5" height="5" fill="#fff" stroke-width="1.5"/>
<rect x="95.60" y="439.90" width="5" height="5" fill="#fff" stroke-width="1.5"/>
<rect x="106.60" y="427.60" width="5" height="5" fill="#fff" stroke-width="1.5"/>
<rect x="123.50" y="408.20" width="5" height="5" fill="#fff" stroke-width="1.5"/>
<rect x="140.30" y="397.50" width="5" height="5" fill="#fff" stroke-width="1.5"/>
<rect x="173.10" y="368.40" width="5" height="5" fill="#fff" stroke-width="1.5"/>
<rect x="205.80" y="353.70" width="5" height="5" fill="#fff" stroke-width="1.5"/>
<rect x="239.00" y="346.90" width="5" height="5" fill="#fff" stroke-width="1.5"/>
<rect x="271.40" y="350.20" width="5" height="5" fill="#fff" stroke-width="1.5"/>
<rect x="313.05" y="417.65" width="5.9" height="5.9" fill="#000" stroke="none"/>
<rect x="313.05" y="406.05" width="5.9" height="5.9" fill="#000" stroke="none"/>
<rect x="322.65" y="406.35" width="5.9" height="5.9" fill="#000" stroke="none"/>
<rect x="333.05" y="402.95" width="5.9" height="5.9" fill="#000" stroke="none"/>
<rect x="343.95" y="399.45" width="5.9" height="5.9" fill="#000" stroke="none"/>
<rect x="360.55" y="369.65" width="5.9" height="5.9" fill="#000" stroke="none"/>
<rect x="376.65" y="358.25" width="5.9" height="5.9" fill="#000" stroke="none"/>
<rect x="409.75" y="299.75" width="5.9" height="5.9" fill="#000" stroke="none"/>
<rect x="442.05" y="304.85" width="5.9" height="5.9" fill="#000" stroke="none"/>
<rect x="474.85" y="339.65" width="5.9" height="5.9" fill="#000" stroke="none"/>
<rect x="506.65" y="322.35" width="5.9" height="5.9" fill="#000" stroke="none"/>
<rect x="313.05" y="411.05" width="5.9" height="5.9" fill="#000" stroke="none"/>
<rect x="322.65" y="407.05" width="5.9" height="5.9" fill="#000" stroke="none"/>
<rect x="333.05" y="403.55" width="5.9" height="5.9" fill="#000" stroke="none"/>
<rect x="343.95" y="424.55" width="5.9" height="5.9" fill="#000" stroke="none"/>
<circle cx="363.50" cy="399.00" r="2.9" fill="#000" stroke="none"/>
<rect x="377.15" y="427.85" width="5.9" height="5.9" fill="#000" stroke="none"/>
<circle cx="412.40" cy="462.80" r="2.9" fill="#000" stroke="none"/>
<circle cx="444.40" cy="466.80" r="2.9" fill="#000" stroke="none"/>
<circle cx="476.70" cy="471.70" r="2.9" fill="#000" stroke="none"/>
<circle cx="509.00" cy="471.70" r="2.9" fill="#000" stroke="none"/>
<circle cx="315.00" cy="428.00" r="2.35" fill="#fff" stroke-width="1.6"/>
<circle cx="317.40" cy="426.20" r="2.35" fill="#fff" stroke-width="1.6"/>
<circle cx="325.60" cy="423.20" r="2.35" fill="#fff" stroke-width="1.6"/>
<circle cx="336.00" cy="420.90" r="2.35" fill="#fff" stroke-width="1.6"/>
<circle cx="346.90" cy="427.50" r="2.35" fill="#fff" stroke-width="1.6"/>
<circle cx="363.70" cy="415.40" r="2.35" fill="#fff" stroke-width="1.6"/>
<circle cx="379.60" cy="394.10" r="2.35" fill="#fff" stroke-width="1.6"/>
<circle cx="412.70" cy="332.20" r="2.35" fill="#fff" stroke-width="1.6"/>
<circle cx="445.00" cy="322.30" r="2.35" fill="#fff" stroke-width="1.6"/>
<circle cx="477.80" cy="359.20" r="2.35" fill="#fff" stroke-width="1.6"/>
<circle cx="509.60" cy="344.70" r="2.35" fill="#fff" stroke-width="1.6"/>
<rect x="314.40" y="398.20" width="5" height="5" fill="#fff" stroke-width="1.5"/>
<rect x="323.10" y="401.60" width="5" height="5" fill="#fff" stroke-width="1.5"/>
<rect x="333.50" y="398.20" width="5" height="5" fill="#fff" stroke-width="1.5"/>
<rect x="344.40" y="405.60" width="5" height="5" fill="#fff" stroke-width="1.5"/>
<rect x="361.00" y="390.40" width="5" height="5" fill="#fff" stroke-width="1.5"/>
<rect x="377.10" y="373.20" width="5" height="5" fill="#fff" stroke-width="1.5"/>
<rect x="410.10" y="348.50" width="5" height="5" fill="#fff" stroke-width="1.5"/>
<rect x="442.50" y="326.30" width="5" height="5" fill="#fff" stroke-width="1.5"/>
<rect x="475.30" y="360.20" width="5" height="5" fill="#fff" stroke-width="1.5"/>
<rect x="507.10" y="338.70" width="5" height="5" fill="#fff" stroke-width="1.5"/>
<text x="173.40" y="10.80" font-size="13.2" text-anchor="middle" >37<tspan font-size="8" dy="-5.2">o</tspan><tspan dy="5.2">C</tspan></text>
<text x="408.90" y="10.80" font-size="13.2" text-anchor="middle" >30<tspan font-size="8" dy="-5.2">o</tspan><tspan dy="5.2">C</tspan></text>
<text x="86.50" y="43.80" font-size="24.6" text-anchor="start" >A</text>
<text x="325.90" y="43.90" font-size="24" text-anchor="start" >B</text>
<text x="85.90" y="293.90" font-size="24.6" text-anchor="start" >C</text>
<text x="324.00" y="293.90" font-size="24.6" text-anchor="start" >D</text>
<text x="175.00" y="520.90" font-size="12.7" text-anchor="middle" textLength="105.2" lengthAdjust="spacingAndGlyphs" >Time in Culture (hr)</text>
<text x="412.60" y="520.90" font-size="12.7" text-anchor="middle" textLength="105.2" lengthAdjust="spacingAndGlyphs" >Time in Culture (hr)</text>
<text transform="translate(10.60,160.90) rotate(-90)" x="0" y="0" font-size="11.9" text-anchor="start" textLength="57.2" lengthAdjust="spacingAndGlyphs">RPMI 8226</text>
<text transform="translate(9.40,406.60) rotate(-90)" x="0" y="0" font-size="11.4" text-anchor="start" textLength="50.4" lengthAdjust="spacingAndGlyphs">HS Sultan</text>
<text transform="translate(36.90,213.30) rotate(-90)" x="0" y="0" font-size="12.4" text-anchor="start" textLength="173.5" lengthAdjust="spacingAndGlyphs">H-TdR Incorporation (x1000 cpm)</text>
<text transform="translate(31.20,217.90) rotate(-90)" x="0" y="0" font-size="8.6" text-anchor="start">3</text>
<text transform="translate(36.90,470.70) rotate(-90)" x="0" y="0" font-size="12.4" text-anchor="start" textLength="174.2" lengthAdjust="spacingAndGlyphs">H-TdR Incorporation (x1000 cpm)</text>
<text transform="translate(31.20,475.30) rotate(-90)" x="0" y="0" font-size="8.6" text-anchor="start">3</text>
</svg>
</body></html>
